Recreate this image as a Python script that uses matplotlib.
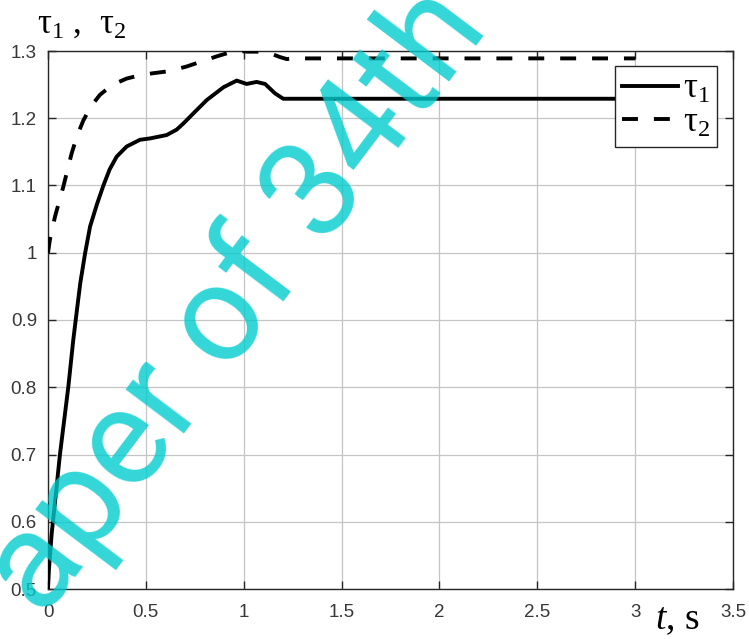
import matplotlib
matplotlib.use("Agg")
import matplotlib.pyplot as plt

# ---- data ----
t1 = [0, 0.005, 0.019, 0.044, 0.061, 0.087, 0.104, 0.129, 0.15, 0.165, 0.19, 0.215,
      0.25, 0.283, 0.315, 0.351, 0.402, 0.47, 0.521, 0.606, 0.657, 0.691, 0.742,
      0.811, 0.896, 0.964, 1.015, 1.066, 1.109, 1.16, 1.202, 1.25, 3.0]
tau1 = [0.5, 0.53, 0.583, 0.652, 0.700, 0.761, 0.801, 0.870, 0.92, 0.955, 1.0, 1.039,
        1.072, 1.100, 1.124, 1.143, 1.158, 1.168, 1.170, 1.175, 1.183, 1.192, 1.207,
        1.227, 1.246, 1.256, 1.251, 1.254, 1.251, 1.237, 1.229, 1.229, 1.229]

t2 = [0, 0.01, 0.036, 0.078, 0.121, 0.15, 0.181, 0.22, 0.266, 0.33, 0.402, 0.47,
      0.538, 0.62, 0.709, 0.78, 0.862, 0.93, 0.98, 1.02, 1.09, 1.14, 1.185, 1.22,
      1.25, 3.0]
tau2 = [1.0, 1.02, 1.054, 1.098, 1.148, 1.175, 1.197, 1.218, 1.235, 1.25, 1.259, 1.264,
        1.267, 1.270, 1.277, 1.284, 1.292, 1.298, 1.300, 1.299, 1.299, 1.296, 1.291, 1.288,
        1.289, 1.289]

xticks = [0, 0.5, 1, 1.5, 2, 2.5, 3, 3.5]
xticklabels = ["0", "0.5", "1", "1.5", "2", "2.5", "3", "3.5"]
yticks = [0.5, 0.6, 0.7, 0.8, 0.9, 1.0, 1.1, 1.2, 1.3]
yticklabels = ["0.5", "0.6", "0.7", "0.8", "0.9", "1", "1.1", "1.2", "1.3"]
legend_labels = ["τ$_1$", "τ$_2$"]
watermark = "aper of 34th C"

plt.rcParams["mathtext.fontset"] = "custom"
plt.rcParams["mathtext.rm"] = "Liberation Serif"
plt.rcParams["mathtext.it"] = "Liberation Serif:italic"

fig = plt.figure(figsize=(7.49, 6.39), dpi=100)
ax = fig.add_axes([48 / 749, 1 - 589 / 639, (733 - 48) / 749, (589 - 51) / 639])

lw = 2.8
ax.plot(t1, tau1, color="black", lw=lw, solid_joinstyle="round", label=legend_labels[0], zorder=3)
ax.plot(t2, tau2, color="black", lw=lw, linestyle=(0, (4.1, 4.1)), label=legend_labels[1], zorder=3)

ax.set_xlim(0, 3.5)
ax.set_ylim(0.5, 1.3)
ax.set_xticks(xticks)
ax.set_xticklabels(xticklabels)
ax.set_yticks(yticks)
ax.set_yticklabels(yticklabels)
ax.grid(True, color="#c4c4c4", lw=0.9)
ax.set_axisbelow(True)
for s in ax.spines.values():
    s.set_color("#262626")
    s.set_linewidth(1.0)
ax.tick_params(direction="in", length=6, width=1, color="#262626",
               top=True, right=True, labelsize=13.5, labelcolor="#383838")
ax.tick_params(axis="x", pad=11)
ax.tick_params(axis="y", pad=8)
for lab in ax.get_xticklabels() + ax.get_yticklabels():
    lab.set_family("Liberation Sans")

leg = ax.legend(loc="upper right", bbox_to_anchor=((717 - 48) / 685, (589 - 66) / 538),
                borderaxespad=0, fancybox=False, framealpha=1, edgecolor="#262626",
                prop={"family": "Liberation Serif", "size": 25},
                handlelength=1.6, handletextpad=0.15, borderpad=0.2, labelspacing=0.02)
leg.get_frame().set_linewidth(1.0)

fig.text(37 / 749, 1 - 33 / 639, "τ$_1$ ,  τ$_2$", family="Liberation Serif",
         fontsize=25, va="baseline", ha="left")
fig.text(655 / 749, 1 - 629 / 639, "$t$, s", family="Liberation Serif",
         fontsize=27, va="baseline", ha="left")

fig.text(44 / 749, 1 - 620 / 639, watermark, family="Roboto",
         fontsize=99, color="#00ccce", alpha=0.8, rotation=53, rotation_mode="anchor",
         ha="left", va="baseline", zorder=10)

fig.savefig("out.png", dpi=100)
